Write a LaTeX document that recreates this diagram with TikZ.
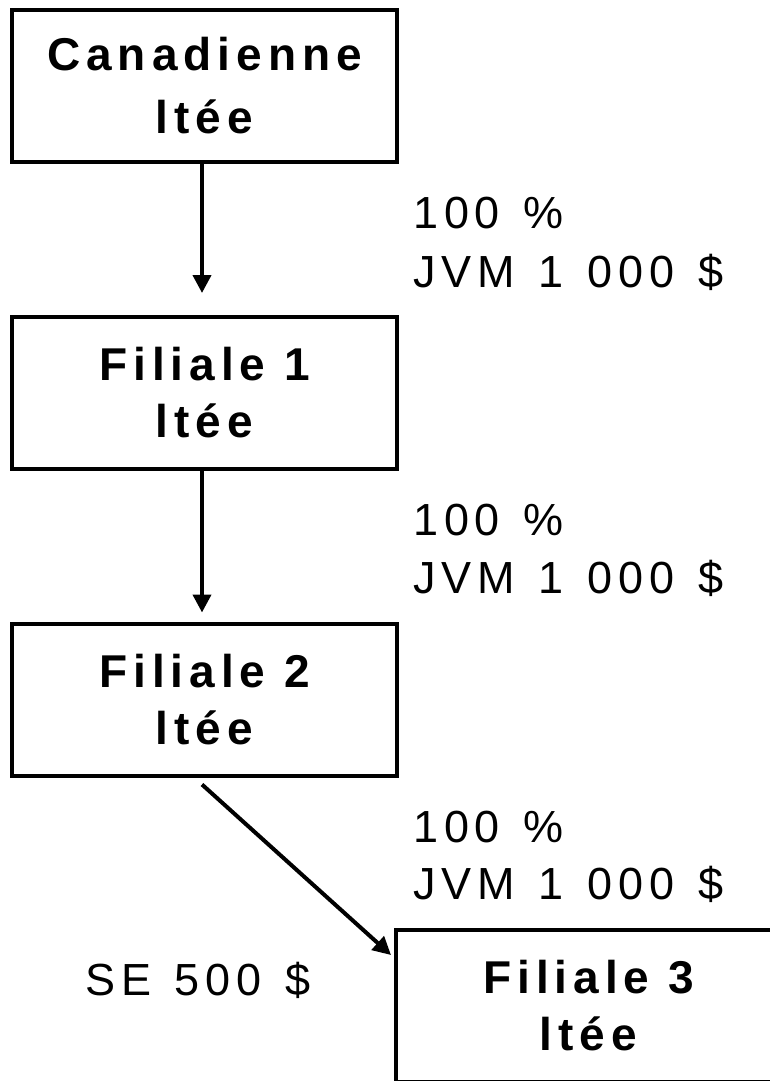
\documentclass[tikz,border=0pt]{standalone}
\usepackage{fontspec}
\setmainfont{Liberation Sans}[LetterSpace=13]
\newfontfamily\lblfont{Liberation Sans}[LetterSpace=13, WordSpace=1.3]
\usetikzlibrary{arrows.meta}
\begin{document}
\begin{tikzpicture}[x=1pt,y=-1pt,
  box/.style={draw, line width=4pt, minimum width=385pt, minimum height=152pt, inner sep=0pt, align=center, font=\fontsize{46}{57}\selectfont\bfseries},
  lbl/.style={font=\lblfont\fontsize{45}{50}\selectfont, inner sep=0pt, anchor=base west},
  conn/.style={line width=4pt, -{Triangle[length=18pt,width=18pt]}}]
\useasboundingbox (0,0) rectangle (770,1081);
\clip (0,0) rectangle (770,1081);
\node[box, font=\fontsize{46}{63}\selectfont\bfseries] (c) at (204.5,86) {Canadienne\\ltée};
\node[box] (f1) at (204.5,393) {Filiale 1\\ltée};
\node[box] (f2) at (204.5,699.5) {Filiale 2\\ltée};
\node[box] (f3) at (588.5,1006) {Filiale 3\\ltée};
\draw[conn] ([xshift=-2.5pt]c.south) -- ([xshift=-2.5pt,yshift=22pt]f1.north);
\draw[conn] ([xshift=-2.5pt]f1.south) -- ([xshift=-2.5pt,yshift=9pt]f2.north);
\draw[conn] ([xshift=-2.5pt,yshift=-7pt]f2.south) -- ([xshift=-3pt,yshift=-27pt]f3.north west);
\node[lbl] (p1) at (413,228) {100 \%};
\node[lbl] (v1) at (413,287) {JVM 1 000 \$};
\node[lbl] (p2) at (413,535) {100 \%};
\node[lbl] (v2) at (413,593) {JVM 1 000 \$};
\node[lbl] (p3) at (413,842) {100 \%};
\node[lbl] (v3) at (413,899) {JVM 1 000 \$};
\node[lbl] (se) at (85,995) {SE 500 \$};
\end{tikzpicture}
\end{document}
